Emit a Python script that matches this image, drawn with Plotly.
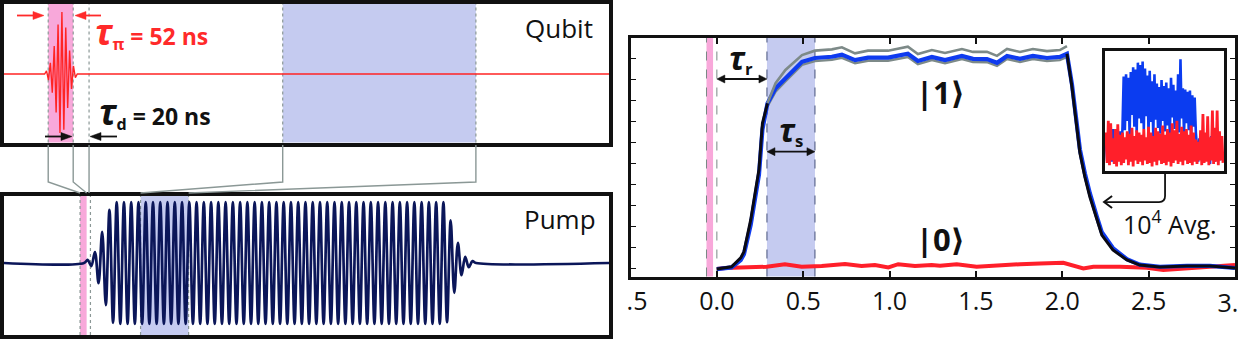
import plotly.graph_objects as go

W, H = 1240, 340
FONT = "Open Sans, DejaVu Sans, sans-serif"
NB = "\u00a0"

# ====================== DATA ======================
# ---- right panel: readout signal vs time (µs) ----
rise_t = [0.0, 0.05, 0.085, 0.138, 0.157, 0.196, 0.225, 0.244, 0.264, 0.293]
rise_black = [-0.005, 0.0, 0.006, 0.048, 0.078, 0.229, 0.38, 0.47, 0.689, 0.784]
rise_blue = [-0.005, -0.002, 0.003, 0.038, 0.066, 0.205, 0.355, 0.445, 0.66, 0.784]

plateau_t = [0.293, 0.34, 0.397, 0.493, 0.568, 0.666, 0.724, 0.800, 0.875, 0.991, 1.106, 1.164,
             1.245, 1.321, 1.419, 1.483, 1.564, 1.622, 1.680, 1.755, 1.830, 1.911, 1.986, 2.027]
gray_upper = [0.784, 0.88, 0.943, 1.014, 1.035, 1.041, 1.051, 1.022, 1.035, 1.035, 1.054, 1.019,
              1.038, 1.024, 1.043, 1.029, 1.029, 1.010, 1.043, 1.029, 1.043, 1.033, 1.038, 1.057]
blue_plateau = [0.784, 0.856, 0.903, 0.982, 1.000, 1.006, 1.016, 0.990, 1.002, 1.002, 1.020, 0.986,
                1.005, 0.990, 1.010, 0.996, 0.995, 0.977, 1.010, 0.996, 1.010, 1.000, 1.005, 1.020]
gray_lower = [0.770, 0.840, 0.888, 0.967, 0.985, 0.991, 1.001, 0.975, 0.987, 0.987, 1.005, 0.971,
              0.990, 0.975, 0.995, 0.981, 0.980, 0.962, 0.995, 0.981, 0.995, 0.985, 0.990, 1.005]

fall_t = [2.027, 2.056, 2.102, 2.131, 2.160, 2.200, 2.229, 2.293, 2.374, 2.449, 2.565, 2.722, 2.855, 3.0]
fall_black = [1.02, 0.862, 0.548, 0.433, 0.338, 0.229, 0.157, 0.086, 0.038, 0.014, 0.005, 0.01, 0.01, 0.0]
fall_blue = [1.02, 0.875, 0.565, 0.45, 0.355, 0.245, 0.17, 0.095, 0.042, 0.016, 0.006, 0.01, 0.01, 0.0]

red_t = [0.0, 0.047, 0.18, 0.288, 0.394, 0.491, 0.607, 0.742, 0.838, 0.915, 0.993, 1.05, 1.147, 1.244,
         1.292, 1.389, 1.504, 1.639, 1.755, 1.871, 2.006, 2.122, 2.18, 2.334, 2.489, 2.585, 2.72, 2.855, 3.0]
red_v = [-0.005, 0.0, 0.003, 0.006, 0.018, 0.006, 0.01, 0.019, 0.01, 0.014, 0.003, 0.018, 0.01, 0.014,
         0.011, 0.018, 0.006, 0.014, 0.018, 0.022, 0.025, -0.002, 0.006, 0.006, 0.001, -0.01, -0.002, 0.003, 0.014]

x_tick_vals = [-0.5, 0.0, 0.5, 1.0, 1.5, 2.0, 2.5, 3.0]
x_tick_text = [NB + NB + ".5", "0.0", "0.5", "1.0", "1.5", "2.0", "2.5", ""]
edge_tick_vals = [3.0]
edge_tick_text = ["3."]
y_tick_vals = [0.0, 0.1, 0.2, 0.3, 0.4, 0.5, 0.6, 0.7, 0.8, 0.9, 1.0]

# shared timing windows (µs)
pi_window = [-0.060, -0.022]
readout_window = [0.290, 0.568]

# ---- inset: single-shot traces (sample index, normalised) ----
inset_blue = [
    0.22, 0.06, 0.30, 0.08, 0.26, 0.05, 0.33, 0.10, 0.24, 0.04, 0.28, 0.09, 0.31, 0.07, 0.35,
    0.78, 0.32, 0.80, 0.40, 0.77, 0.28, 0.82, 0.45, 0.86, 0.35, 0.84, 0.30, 0.90, 0.42, 0.88,
    0.38, 0.91, 0.33, 0.85, 0.44, 0.79, 0.30, 0.83, 0.39, 0.74, 0.27, 0.80, 0.41, 0.72, 0.34,
    0.69, 0.29, 0.75, 0.40, 0.70, 0.31, 0.73, 0.36, 0.68, 0.26, 0.77, 0.43, 0.71, 0.33, 0.66,
    0.37, 0.80, 0.30, 0.93, 0.42, 0.68, 0.28, 0.67, 0.38, 0.65, 0.32, 0.66, 0.27, 0.62, 0.35, 0.60, 0.30,
    0.18, 0.05, 0.25, 0.08, 0.21, 0.04, 0.28, 0.09, 0.20, 0.06, 0.24, 0.03, 0.27, 0.10, 0.19, 0.05,
    0.23, 0.08, 0.26, 0.06, 0.20, 0.12, 0.10]
inset_red = [
    0.30, 0.04, 0.40, 0.02, 0.38, 0.06, 0.25, 0.03, 0.33, 0.01, 0.37, 0.05, 0.28, 0.02, 0.30,
    0.04, 0.26, 0.07, 0.31, 0.02, 0.29, 0.05, 0.34, 0.01, 0.27, 0.06, 0.32, 0.03, 0.30, 0.05,
    0.28, 0.02, 0.33, 0.06, 0.26, 0.03, 0.35, 0.04, 0.30, 0.01, 0.27, 0.05, 0.34, 0.02, 0.31,
    0.06, 0.29, 0.03, 0.36, 0.04, 0.28, 0.02, 0.33, 0.05, 0.30, 0.01, 0.38, 0.04, 0.32, 0.06,
    0.40, 0.03, 0.29, 0.05, 0.35, 0.02, 0.31, 0.06, 0.33, 0.03, 0.28, 0.04, 0.36, 0.02, 0.30,
    0.05, 0.24, 0.03, 0.22, 0.06, 0.32, 0.02, 0.46, 0.04, 0.30, 0.05, 0.44, 0.02, 0.26, 0.06,
    0.49, 0.03, 0.34, 0.05, 0.49, 0.02, 0.31, 0.06, 0.27, 0.04]

# ---- qubit drive (schematic, ns) ----
qubit_range_ns = [-177.0, 1082.0]
qubit_pi_ns = [-85.0, -33.0]
qubit_readout_ns = [403.0, 805.0]
qubit_pulse_t0 = -88.5       # first oscillation peak
qubit_half_period = 4.0      # spacing of successive peaks
qubit_pulse_env = [0.05, 0.10, 0.18, 0.30, 0.45, 0.62, 0.80, 0.95, 1.00, 0.90, 0.75, 0.55, 0.38, 0.24, 0.13, 0.06]

# ---- pump drive (schematic, µs) ----
pump_t0 = -0.016
pump_half_period = 0.021
pump_rise = [0.05, 0.05, 0.18, 0.33, 0.51, 0.69, 0.87, 0.98]
pump_full_count = 91
pump_fall = [0.97, 0.70, 0.49, 0.33, 0.20, 0.10, 0.07, 0.03]
time_range = [-0.5, 3.0]

# ====================== GEOMETRY (pixels) ======================
qubit_px = dict(x=(4, 609), y=(3.5, 142.5))
pump_px = dict(x=(4, 609), y=(195.5, 335))
main_px = dict(x=(630.5, 1235), y=(37.5, 276.5))
inset_px = dict(x=(1105, 1224), y=(51, 171))
main_yrange = [-0.0405, 1.0976]


def dom_x(p):
    return [p["x"][0] / W, p["x"][1] / W]


def dom_y(p):
    return [1 - p["y"][1] / H, 1 - p["y"][0] / H]


def P(px, py):
    return px / W, 1 - py / H


def data_to_px(v, rng, px_span):
    return px_span[0] + (v - rng[0]) / (rng[1] - rng[0]) * (px_span[1] - px_span[0])


def main_xy(t, v):
    x = data_to_px(t, time_range, main_px["x"])
    y = main_px["y"][1] - (v - main_yrange[0]) / (main_yrange[1] - main_yrange[0]) * (main_px["y"][1] - main_px["y"][0])
    return x, y


# ====================== TRACES ======================
fig = go.Figure()

# Qubit pulse
qx = [qubit_range_ns[0], qubit_pulse_t0 - qubit_half_period]
qy = [0.0, 0.0]
for i, a in enumerate(qubit_pulse_env):
    qx.append(qubit_pulse_t0 + i * qubit_half_period)
    qy.append(a if i % 2 == 0 else -a)
qx += [qubit_pulse_t0 + len(qubit_pulse_env) * qubit_half_period, qubit_range_ns[1]]
qy += [0.0, 0.0]
fig.add_trace(go.Scatter(x=qx, y=qy, mode="lines", line=dict(color="#ff2424", width=1.4),
                         xaxis="x", yaxis="y", hoverinfo="skip"))

# Pump pulse
pump_env = pump_rise + [1.0] * pump_full_count + pump_fall
px_ = [time_range[0], pump_t0 - pump_half_period]
py_ = [0.0, 0.0]
for i, a in enumerate(pump_env):
    px_.append(pump_t0 + i * pump_half_period)
    py_.append(a if i % 2 == 0 else -a)
px_ += [pump_t0 + len(pump_env) * pump_half_period, time_range[1]]
py_ += [0.0, 0.0]
fig.add_trace(go.Scatter(x=px_, y=py_, mode="lines", line=dict(color="#0b1659", width=2.7, shape="spline"),
                         xaxis="x2", yaxis="y2", hoverinfo="skip"))

# Main panel curves
fig.add_trace(go.Scatter(x=red_t, y=red_v, mode="lines", line=dict(color="#ff1f2a", width=4),
                         xaxis="x3", yaxis="y3", hoverinfo="skip"))
fig.add_trace(go.Scatter(x=plateau_t, y=gray_lower, mode="lines", line=dict(color="#7d8a88", width=2.4),
                         xaxis="x3", yaxis="y3", hoverinfo="skip"))
blue_t = rise_t[:-1] + plateau_t + fall_t[1:]
blue_v = rise_blue[:-1] + blue_plateau + fall_blue[1:]
fig.add_trace(go.Scatter(x=blue_t, y=blue_v, mode="lines", line=dict(color="#0f3bef", width=4.2),
                         xaxis="x3", yaxis="y3", hoverinfo="skip"))
fig.add_trace(go.Scatter(x=plateau_t, y=gray_upper, mode="lines", line=dict(color="#7d8a88", width=2.6),
                         xaxis="x3", yaxis="y3", hoverinfo="skip"))
fig.add_trace(go.Scatter(x=rise_t, y=rise_black, mode="lines", line=dict(color="#0a0a14", width=3),
                         xaxis="x3", yaxis="y3", hoverinfo="skip"))
fig.add_trace(go.Scatter(x=fall_t, y=fall_black, mode="lines", line=dict(color="#0a0a14", width=3),
                         xaxis="x3", yaxis="y3", hoverinfo="skip"))
# empty trace that carries the overlay axis for the last tick label
fig.add_trace(go.Scatter(x=[], y=[], mode="lines", xaxis="x5", yaxis="y3", hoverinfo="skip"))

# Inset
idx = list(range(len(inset_blue)))
fig.add_trace(go.Scatter(x=idx, y=inset_blue, mode="lines", line=dict(color="#0b3cf0", width=2.6),
                         xaxis="x4", yaxis="y4", hoverinfo="skip"))
fig.add_trace(go.Scatter(x=idx, y=inset_red, mode="lines", line=dict(color="#ff1f2a", width=2.8),
                         xaxis="x4", yaxis="y4", hoverinfo="skip"))


# ====================== AXES ======================
def box_axis(domain, rng, lw, anchor):
    return dict(domain=domain, range=rng, anchor=anchor, showline=True, mirror=True, linewidth=lw,
                linecolor="#111111", showgrid=False, zeroline=False, showticklabels=False, ticks="",
                fixedrange=True, automargin=False)


q_amp_px = 62.0
q_center = 74.0
q_yrange = [-(qubit_px["y"][1] - q_center) / q_amp_px, (q_center - qubit_px["y"][0]) / q_amp_px]
p_amp_px = 61.0
p_center = 263.0
p_yrange = [-(pump_px["y"][1] - p_center) / p_amp_px, (p_center - pump_px["y"][0]) / p_amp_px]
TICKFONT = dict(family=FONT, size=25, color="#111111")

fig.update_layout(
    xaxis=box_axis(dom_x(qubit_px), qubit_range_ns, 3.5, "y"),
    yaxis=box_axis(dom_y(qubit_px), q_yrange, 3.5, "x"),
    xaxis2=box_axis(dom_x(pump_px), time_range, 3.5, "y2"),
    yaxis2=box_axis(dom_y(pump_px), p_yrange, 3.5, "x2"),
    xaxis3=dict(domain=dom_x(main_px), range=time_range, anchor="y3", showline=True, mirror="ticks",
                linewidth=3, linecolor="#111111", ticks="inside", ticklen=6, tickwidth=1.6,
                tickcolor="#111111", tickvals=x_tick_vals, ticktext=x_tick_text,
                ticklabeloverflow="allow", automargin=False,
                tickfont=TICKFONT, showgrid=False, zeroline=False, fixedrange=True),
    xaxis5=dict(domain=dom_x(main_px), range=time_range, anchor="y3", overlaying="x3", side="bottom",
                showline=False, ticks="", tickvals=edge_tick_vals, ticktext=edge_tick_text,
                ticklabelshift=-7, ticklabelstandoff=9, ticklabeloverflow="allow", automargin=False,
                tickfont=TICKFONT, showgrid=False, zeroline=False, fixedrange=True),
    yaxis3=dict(domain=dom_y(main_px), range=main_yrange, anchor="x3", showline=True, mirror="ticks",
                linewidth=3, linecolor="#111111", ticks="inside", ticklen=5, tickwidth=1.4,
                tickcolor="#111111", tickvals=y_tick_vals, showticklabels=False, showgrid=False,
                zeroline=False, fixedrange=True, automargin=False),
    xaxis4=box_axis(dom_x(inset_px), [-0.8, len(inset_blue) - 0.2], 2.6, "y4"),
    yaxis4=box_axis(dom_y(inset_px), [-0.03, 1.0], 2.6, "x4"),
)

# ====================== SHAPES ======================
PINK = "#f8a8da"
BAND = "#c5cbf0"
GRAYL = "#8b9896"
shapes = []


def band(xref, yref, x0, x1, color):
    shapes.append(dict(type="rect", xref=xref, yref=yref, x0=x0, x1=x1, y0=0, y1=1,
                       fillcolor=color, line=dict(width=0), layer="below"))


def vline(xref, yref, x, color, dash="dot", width=1.2):
    shapes.append(dict(type="line", xref=xref, yref=yref, x0=x, x1=x, y0=0, y1=1,
                       line=dict(color=color, width=width, dash=dash), layer="below"))


def arrow(head, tail, color, width=1.8, hl=9.0, hw=8.0, both=False):
    """Horizontal arrow in pixel coordinates, drawn as paper shapes."""
    (xh, yh), (xt, yt) = head, tail
    s = 1 if xh > xt else -1
    x0 = xt + (s * hl * 0.8 if both else 0)
    x1 = xh - s * hl * 0.8
    a, b = P(x0, yt), P(x1, yh)
    shapes.append(dict(type="line", xref="paper", yref="paper", x0=a[0], y0=a[1], x1=b[0], y1=b[1],
                       line=dict(color=color, width=width)))
    tips = [(xh, yh, s)] + ([(xt, yt, -s)] if both else [])
    for (x, y, d) in tips:
        p1, p2, p3 = P(x, y), P(x - d * hl, y - hw / 2), P(x - d * hl, y + hw / 2)
        shapes.append(dict(type="path", xref="paper", yref="paper",
                           path="M {:.5f},{:.5f} L {:.5f},{:.5f} L {:.5f},{:.5f} Z".format(*p1, *p2, *p3),
                           fillcolor=color, line=dict(color=color, width=0.5)))


# qubit panel bands
band("x", "y domain", qubit_pi_ns[0], qubit_pi_ns[1], PINK)
band("x", "y domain", qubit_readout_ns[0], qubit_readout_ns[1], BAND)
for v in qubit_pi_ns + [0.0] + qubit_readout_ns:
    vline("x", "y domain", v, GRAYL)
# pump panel bands
band("x2", "y2 domain", pi_window[0], pi_window[1], PINK)
band("x2", "y2 domain", readout_window[0], readout_window[1], BAND)
for v in [pi_window[0], 0.0] + readout_window:
    vline("x2", "y2 domain", v, GRAYL)
# main panel bands
band("x3", "y3 domain", pi_window[0], pi_window[1], PINK)
band("x3", "y3 domain", readout_window[0], readout_window[1], BAND)
vline("x3", "y3 domain", pi_window[0], "#7a8785", dash="dash", width=1)
vline("x3", "y3 domain", 0.0, "#7a8785", dash="dash", width=1)
for v in readout_window:
    vline("x3", "y3 domain", v, "#44507a", dash="dash", width=1)

# connectors between qubit and pump panels
pairs = [(qubit_pi_ns[0], pi_window[0]), (qubit_pi_ns[1], pi_window[1]), (0.0, 0.0),
         (qubit_readout_ns[0], readout_window[0]), (qubit_readout_ns[1], readout_window[1])]
y_top, y_knee, y_bot = 145.0, 182.0, 193.0
for qv, pv in pairs:
    xa = data_to_px(qv, qubit_range_ns, qubit_px["x"])
    xb = data_to_px(pv, time_range, pump_px["x"])
    if qv == 0.0:
        xb = xa
    pts = [P(xa, y_top), P(xa, y_knee), P(xb, y_bot)]
    path = "M {:.5f},{:.5f} L {:.5f},{:.5f} L {:.5f},{:.5f}".format(*pts[0], *pts[1], *pts[2])
    shapes.append(dict(type="path", xref="paper", yref="paper", path=path,
                       line=dict(color=GRAYL, width=1.4)))

# inset -> averaged trace connector (vertical leg, rounded corner, open arrow head)
avg_x, avg_y, avg_head_x = 2.595, 0.314, 2.242
vx, vy = main_xy(avg_x, avg_y)
hx, _ = main_xy(avg_head_x, avg_y)
y_start = inset_px["y"][1] + 3
r = 6
pts = [P(vx, y_start), P(vx, vy - r), P(vx, vy), P(vx - r, vy), P(hx, vy)]
shapes.append(dict(type="path", xref="paper", yref="paper",
                   path="M {:.5f},{:.5f} L {:.5f},{:.5f} Q {:.5f},{:.5f} {:.5f},{:.5f} L {:.5f},{:.5f}".format(
                       *pts[0], *pts[1], *pts[2], *pts[3], *pts[4]),
                   line=dict(color="#111111", width=1.8)))
c1, c2, c3 = P(hx + 8, vy - 6), P(hx, vy), P(hx + 8, vy + 6)
shapes.append(dict(type="path", xref="paper", yref="paper",
                   path="M {:.5f},{:.5f} L {:.5f},{:.5f} L {:.5f},{:.5f}".format(*c1, *c2, *c3),
                   line=dict(color="#111111", width=2)))

RED = "#ff2a2a"
# qubit-panel arrows
arrow((44, 15.5), (17, 15.5), RED, width=1.8, hl=11, hw=8)
arrow((75, 15.5), (101, 15.5), RED, width=1.8, hl=11, hw=8)
arrow((72, 136.5), (45, 136.5), "#111111", width=1.8, hl=11, hw=8)
arrow((90, 136.5), (117, 136.5), "#111111", width=1.8, hl=11, hw=8)
# tau_r and tau_s double arrows in the main panel
tr0, tr_y = main_xy(0.0, 0.90)
tr1, _ = main_xy(readout_window[0], 0.90)
arrow((tr1, tr_y), (tr0, tr_y), "#111111", width=1.8, hl=8, hw=8, both=True)
ts0, ts_y = main_xy(readout_window[0], 0.554)
ts1, _ = main_xy(readout_window[1], 0.554)
arrow((ts1, ts_y), (ts0, ts_y), "#111111", width=1.8, hl=8, hw=8, both=True)

fig.update_layout(shapes=shapes)

# ====================== ANNOTATIONS (text) ======================
ann = []


def text(px, py, s, size, color="#111111", xanchor="center"):
    x, y = P(px, py)
    ann.append(dict(x=x, y=y, xref="paper", yref="paper", text=s, showarrow=False,
                    xanchor=xanchor, yanchor="middle", font=dict(family=FONT, size=size, color=color)))


text(559, 28, "Qubit", 26)
text(560, 219, "Pump", 26)
text(93, 31, "<b><span style='font-size:35px'><i>τ</i></span><sub>π</sub> = 52 ns</b>", 23, RED, "left")
text(97, 112, "<b><span style='font-size:35px'><i>τ</i></span><sub>d</sub> = 20 ns</b>", 23, "#111111", "left")
text(741, 58, "<b><span style='font-size:32px'><i>τ</i></span><sub>r</sub></b>", 24)
text(791, 130, "<b><span style='font-size:32px'><i>τ</i></span><sub>s</sub></b>", 24)
text(940, 92, "<b>|1⟩</b>", 31)
text(940, 239, "<b>|0⟩</b>", 31)
text(1170, 222, "10<sup>4</sup> Avg.", 25)

fig.update_layout(
    annotations=ann,
    width=W, height=H, autosize=False,
    margin=dict(l=0, r=0, t=0, b=0, pad=0, autoexpand=False),
    paper_bgcolor="white", plot_bgcolor="rgba(0,0,0,0)",
    showlegend=False,
    font=dict(family=FONT, color="#111111"),
)

fig.write_html("out.html", post_script="document.body.style.margin='0px';")
